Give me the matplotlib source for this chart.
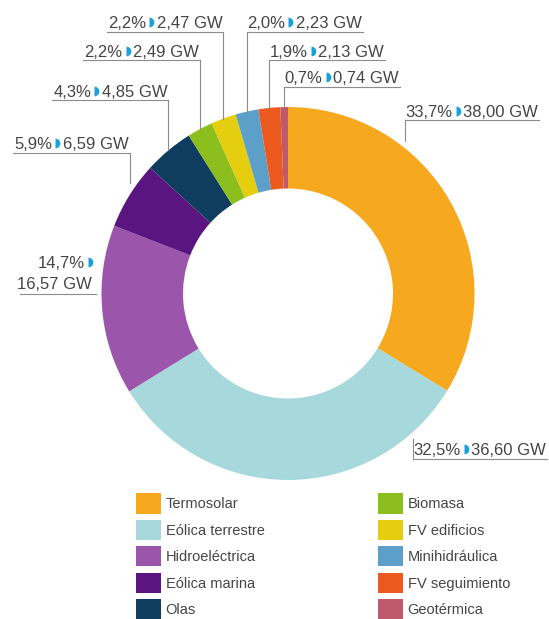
"""Donut chart of renewable capacity by technology (GW)."""

import matplotlib
matplotlib.use("Agg")
import matplotlib.pyplot as plt
import numpy as np

# data, clockwise from 12 o'clock
categories = ["Termosolar", "Eólica terrestre", "Hidroeléctrica", "Eólica marina",
              "Olas", "Biomasa", "FV edificios", "Minihidráulica",
              "FV seguimiento", "Geotérmica"]
gw = [38.00, 36.60, 16.57, 6.59, 4.85, 2.49, 2.47, 2.23, 2.13, 0.74]
pct = [33.7, 32.5, 14.7, 5.9, 4.3, 2.2, 2.2, 2.0, 1.9, 0.7]
colors = ["#F6A81E", "#A6D8DC", "#9B55AB", "#5A1580", "#0E3D5F",
          "#8CBF1E", "#E5CD0F", "#5C9FC9", "#EC5A1F", "#BF5A6C"]

W, H = 549, 619
CX, CY, R = 288, 293.5, 186.5
RING = 81.5
FONT = ["Liberation Sans", "DejaVu Sans"]
TEXT = "#454545"
LINE = "#8C8C8C"
BLUE = "#1BA1D9"
GAP = 3
DOT = 4.5

# label layout: (align, leader x or None for mid-angle, baseline, underline y, gap to ring)
layout = [
    ("left", 405, 117, 120, 7),
    ("left", 413, 455, 459, 7),
    (None, None, None, None, None),   # two-line label, handled below
    ("right", None, 149, 153, 12),
    ("right", None, 97, 100, 0),
    ("right", None, 57, 60, 0),
    ("right", None, 28, 32, 0),
    ("left", None, 28, 32, 0),
    ("left", None, 57, 60, 0),
    ("left", None, 83, 87, 0),
]


def fmt(v, nd):
    return f"{v:.{nd}f}".replace(".", ",")


fig = plt.figure(figsize=(W / 100, H / 100), dpi=100)
ax = fig.add_axes([0, 0, 1, 1])
wedges, _ = ax.pie(gw, colors=colors, startangle=-90, counterclock=True,
                   center=(CX, CY), radius=R,
                   wedgeprops=dict(width=RING, linewidth=0))
ax.set_xlim(0, W)
ax.set_ylim(H, 0)
ax.set_aspect("equal")
ax.axis("off")

renderer = fig.canvas.get_renderer()
TXT = dict(ha="left", va="baseline", fontsize=12, color=TEXT, family=FONT)


def width(t):
    return t.get_window_extent(renderer).width


def dot(x, base):
    ax.plot([x], [base - 5.8], marker="o", fillstyle="right", markersize=7,
            color=BLUE, markerfacecoloralt="none", markeredgewidth=0)


def inline_label(x, base, p, v, align):
    a = ax.text(0, base, p, **TXT)
    b = ax.text(0, base, v, **TXT)
    wa, wb = width(a), width(b)
    total = wa + GAP + DOT + GAP + wb
    x0 = x - total if align == "right" else x
    a.set_x(x0)
    dot(x0 + wa + GAP, base)
    b.set_x(x0 + wa + GAP + DOT + GAP)
    return x0, x0 + total


for i, w in enumerate(wedges):
    align, lx, base, uy, gap = layout[i]
    p = fmt(pct[i], 1) + "%"
    v = fmt(gw[i], 2) + " GW"
    if align is None:
        # Hidroeléctrica: two lines on the left
        a = ax.text(0, 268, p, **TXT)
        wa = width(a)
        a.set_x(92 - DOT - GAP - wa)
        dot(92 - DOT, 268)
        ax.text(92, 289, v, **{**TXT, "ha": "right"})
        ax.plot([20, 96], [294, 294], color=LINE, lw=0.8)
        continue
    if lx is None:
        th = np.deg2rad((w.theta1 + w.theta2) / 2)
        lx = CX + R * np.cos(th)
        ly = CY + R * np.sin(th)
    else:
        dy = np.sqrt(R ** 2 - (lx - CX) ** 2)
        ly = CY + dy if uy > CY else CY - dy
    ly = ly + gap if uy > CY else ly - gap
    tx = lx - 1 if align == "right" else lx + 0.5
    x0, x1 = inline_label(tx, base, p, v, align)
    ax.plot([lx, x1 + 1] if align == "left" else [x0 - 1, lx], [uy, uy],
            color=LINE, lw=0.8)
    ax.plot([lx, lx], [uy, ly], color=LINE, lw=0.8)

# legend in two columns
fs = 10.5
common = dict(loc="upper left", frameon=False, borderpad=0,
              borderaxespad=0, handlelength=1.734, handleheight=1.734,
              labelspacing=0.44, handletextpad=0.3, labelcolor=TEXT,
              prop={"family": FONT, "size": fs},
              bbox_transform=ax.transData)
leg1 = ax.legend(wedges[:5], categories[:5], bbox_to_anchor=(136, 493.5), **common)
ax.add_artist(leg1)
ax.legend(wedges[5:], categories[5:], bbox_to_anchor=(378, 493.5), **common)

fig.savefig("out.png", dpi=100, facecolor="white")
